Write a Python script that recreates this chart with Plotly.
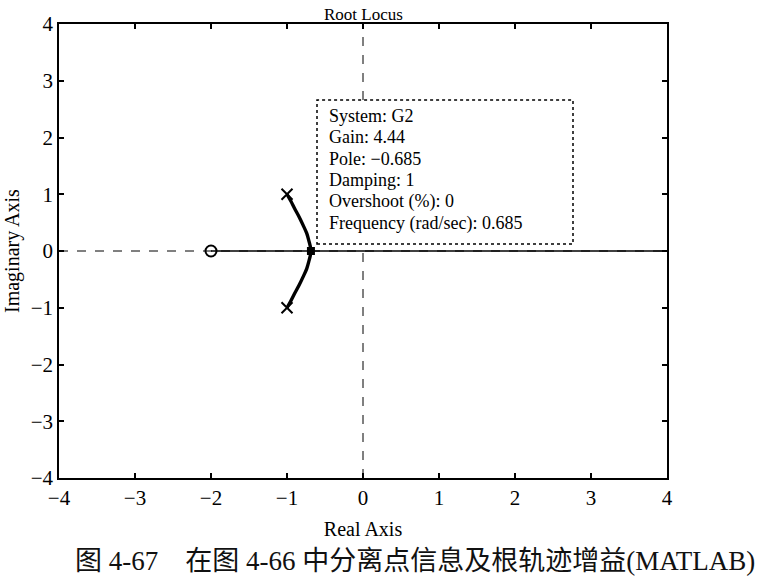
import plotly.graph_objects as go

# ---- data ----
pole_re = [-1.0, -1.0]
pole_im = [1.0, -1.0]
zero_re = [-2.0]
zero_im = [0.0]
# complex branch (upper half; lower half is its mirror)
branch_up_re = [-1.0, -0.95, -0.9, -0.84, -0.79, -0.74, -0.71, -0.695, -0.685]
branch_up_im = [1.0, 0.88, 0.75, 0.6, 0.46, 0.31, 0.17, 0.09, 0.0]
# real-axis branch
real_re = [-2.0, 4.0]
real_im = [0.0, 0.0]
# selected data tip
tip_re = [-0.685]
tip_im = [0.0]
tip_lines = [
    "System: G2",
    "Gain: 4.44",
    "Pole: \u22120.685",
    "Damping: 1",
    "Overshoot (%): 0",
    "Frequency (rad/sec): 0.685",
]
ticks = [-4, -3, -2, -1, 0, 1, 2, 3, 4]
title_text = "Root Locus"
xlabel = "Real Axis"
ylabel = "Imaginary Axis"
caption = "图 4-67\u3000在图 4-66 中分离点信息及根轨迹增益(MATLAB)"

SERIF = "Liberation Serif, Times New Roman, serif"

fig = go.Figure()

# real-axis branch
fig.add_trace(go.Scatter(x=real_re, y=real_im, mode="lines",
                         line=dict(color="black", width=1.6), hoverinfo="skip"))
# complex branches
fig.add_trace(go.Scatter(x=branch_up_re, y=branch_up_im, mode="lines",
                         line=dict(color="black", width=3.4, shape="spline"), hoverinfo="skip"))
fig.add_trace(go.Scatter(x=branch_up_re, y=[-v for v in branch_up_im], mode="lines",
                         line=dict(color="black", width=3.4, shape="spline"), hoverinfo="skip"))
# poles and zero
fig.add_trace(go.Scatter(x=pole_re, y=pole_im, mode="markers",
                         marker=dict(symbol="x-thin", size=11, line=dict(color="black", width=2)),
                         hoverinfo="skip"))
fig.add_trace(go.Scatter(x=zero_re, y=zero_im, mode="markers",
                         marker=dict(symbol="circle-open", size=11, color="black", line=dict(width=2)),
                         hoverinfo="skip"))
# selected point
fig.add_trace(go.Scatter(x=tip_re, y=tip_im, mode="markers",
                         marker=dict(symbol="square", size=8, color="black"),
                         hoverinfo="skip"))

shapes = [
    # dashed axis lines
    dict(type="line", xref="x domain", x0=0, x1=1, yref="y", y0=0, y1=0,
         line=dict(color="black", width=1, dash="dash"), layer="below"),
    dict(type="line", yref="y domain", y0=0, y1=1, xref="x", x0=0, x1=0,
         line=dict(color="black", width=1, dash="dash"), layer="below"),
]
# data tip box (pixel positions converted into paper fractions)
W, H = 608.0, 460.0
px_x = lambda p: (p - 59) / W
px_y = lambda p: (478 - p) / H
shapes.append(dict(type="rect", xref="paper", yref="paper",
                   x0=px_x(317), x1=px_x(573), y0=px_y(241), y1=px_y(95),
                   fillcolor="white", line=dict(color="black", width=1.5, dash="dot"),
                   layer="above"))

annotations = []
for i, t in enumerate(tip_lines):
    annotations.append(dict(text=t, xref="paper", yref="paper", x=px_x(327),
                            y=px_y(111 + i * 21.8), xanchor="left", yanchor="middle",
                            showarrow=False, font=dict(family=SERIF, size=18, color="black")))
annotations.append(dict(text=title_text, xref="paper", yref="paper", x=0.5, y=px_y(8),
                        xanchor="center", yanchor="middle", showarrow=False,
                        font=dict(family=SERIF, size=17, color="black")))
annotations.append(dict(text=ylabel, xref="paper", yref="paper", x=px_x(12), y=px_y(248),
                        xanchor="center", yanchor="middle", textangle=-90, showarrow=False,
                        font=dict(family=SERIF, size=20, color="black")))
annotations.append(dict(text=caption, xref="paper", yref="paper", x=px_x(757), y=px_y(562),
                        xanchor="right", yanchor="middle", showarrow=False,
                        font=dict(family="Liberation Serif, Noto Sans CJK SC", size=27, color="#111")))

axis_common = dict(range=[-4, 4], tickvals=ticks, ticks="inside", ticklen=5, tickwidth=1.5,
                   tickcolor="black", showline=True, linecolor="black", linewidth=1.5,
                   mirror="ticks", showgrid=False, zeroline=False,
                   tickfont=dict(family=SERIF, size=21, color="black"))

fig.update_layout(
    width=760, height=580,
    margin=dict(l=59, r=93, t=18, b=102),
    paper_bgcolor="white", plot_bgcolor="white",
    showlegend=False,
    xaxis=dict(**axis_common, title=dict(text=xlabel, font=dict(family=SERIF, size=20, color="black"),
                                         standoff=13)),
    yaxis=dict(**axis_common),
    shapes=shapes,
    annotations=annotations,
)

fig.write_html("out.html")
